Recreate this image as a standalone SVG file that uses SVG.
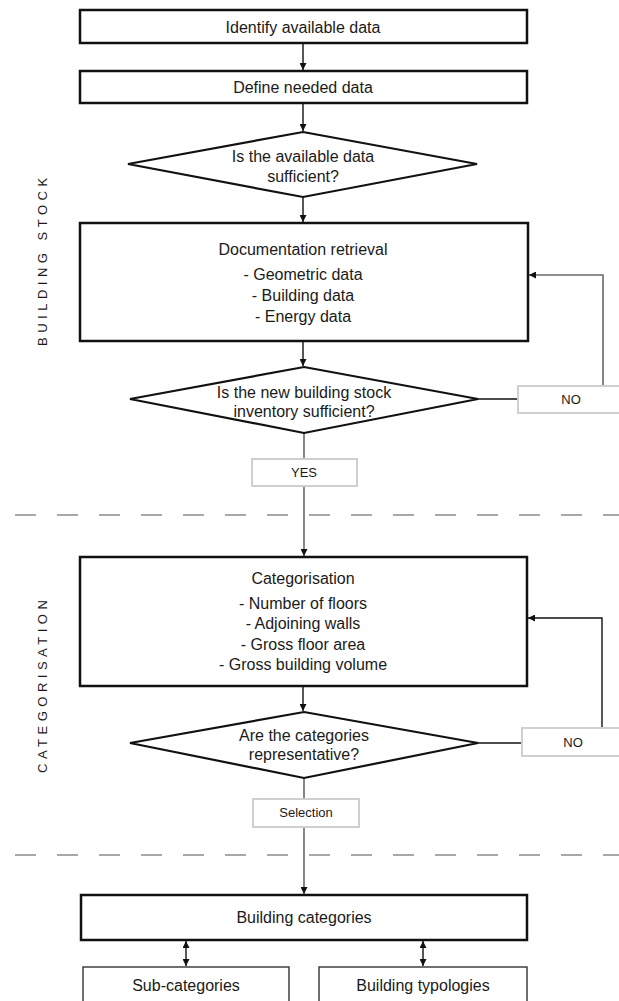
<svg xmlns="http://www.w3.org/2000/svg" width="619" height="1001" viewBox="0 0 619 1001">
<style>
text{font-family:"Liberation Sans",Arial,sans-serif;fill:#1a1a1a;text-anchor:middle}
.t{font-size:16px}
.s{font-size:13px}
.side{font-size:13px;letter-spacing:4.5px;text-anchor:start}
.box{fill:#fff;stroke:#111;stroke-width:2.5}
.thin{fill:#fff;stroke:#333;stroke-width:1.4}
.dia{fill:#fff;stroke:#111;stroke-width:2.2}
.lab{fill:#fff;stroke:#cfcfcf;stroke-width:2}
.c{fill:none;stroke:#111;stroke-width:1.4}
.g{fill:none;stroke:#6a6a6a;stroke-width:1.6}
.dash{stroke:#a8a8a8;stroke-width:2.2;stroke-dasharray:21 21}
</style>
<defs>
<marker id="ah" viewBox="0 0 10 10" refX="10" refY="5" markerWidth="7" markerHeight="7" markerUnits="userSpaceOnUse" orient="auto">
<path d="M0,0 L10,5 L0,10 z" fill="#111"/>
</marker>
<marker id="as" viewBox="0 0 10 10" refX="0" refY="5" markerWidth="7" markerHeight="7" markerUnits="userSpaceOnUse" orient="auto">
<path d="M10,0 L0,5 L10,10 z" fill="#111"/>
</marker>
</defs>

<g id="dividers">
<line class="dash" x1="15" y1="515" x2="619" y2="515"/>
<line class="dash" x1="15" y1="855" x2="619" y2="855"/>
</g>

<g id="section-labels">
<text class="side" transform="translate(47,346) rotate(-90)">BUILDING STOCK</text>
<text class="side" transform="translate(47,773) rotate(-90)">CATEGORISATION</text>
</g>

<g id="connectors">
<line class="c" x1="303" y1="44" x2="303" y2="70" marker-end="url(#ah)"/>
<line class="c" x1="303" y1="104" x2="303" y2="131" marker-end="url(#ah)"/>
<line class="c" x1="303" y1="197" x2="303" y2="222" marker-end="url(#ah)"/>
<line class="c" x1="303" y1="342" x2="303" y2="366" marker-end="url(#ah)"/>
<line class="g" x1="304" y1="433" x2="304" y2="459"/>
<line class="g" x1="304" y1="487" x2="304" y2="556" marker-end="url(#ah)"/>
<line class="c" x1="478" y1="399" x2="518" y2="399"/>
<polyline class="g" points="603,386 603,275 529,275" marker-end="url(#ah)"/>
<line class="c" x1="303" y1="687" x2="303" y2="711" marker-end="url(#ah)"/>
<line class="c" x1="478" y1="743" x2="522" y2="743"/>
<polyline class="c" points="602,728 602,618 528,618" marker-end="url(#ah)"/>
<line class="g" x1="304" y1="778" x2="304" y2="799"/>
<line class="g" x1="304" y1="828" x2="304" y2="894" marker-end="url(#ah)"/>
<line class="c" x1="186" y1="941" x2="186" y2="966" marker-start="url(#as)" marker-end="url(#ah)"/>
<line class="c" x1="423" y1="941" x2="423" y2="966" marker-start="url(#as)" marker-end="url(#ah)"/>
</g>

<g id="identify">
<rect class="box" x="80" y="10" width="447" height="33"/>
<text class="t" x="303" y="33">Identify available data</text>
</g>
<g id="define">
<rect class="box" x="80" y="71" width="447" height="32"/>
<text class="t" x="303" y="93">Define needed data</text>
</g>
<g id="decision1">
<polygon class="dia" points="303,132 477,164 303,197 128,164"/>
<text class="t" x="303" y="162">Is the available data</text>
<text class="t" x="303" y="182">sufficient?</text>
</g>
<g id="documentation">
<rect class="box" x="80" y="223" width="448" height="118"/>
<text class="t" x="303" y="255">Documentation retrieval</text>
<text class="t" x="303" y="280">- Geometric data</text>
<text class="t" x="303" y="301">- Building data</text>
<text class="t" x="303" y="322">- Energy data</text>
</g>
<g id="decision2">
<polygon class="dia" points="304,367 478,399 304,433 130,399"/>
<text class="t" x="304" y="398">Is the new building stock</text>
<text class="t" x="304" y="417">inventory sufficient?</text>
</g>
<g id="no1">
<rect class="lab" x="518" y="386" width="104" height="27"/>
<text class="s" x="571" y="404">NO</text>
</g>
<g id="yes">
<rect class="lab" x="252" y="459" width="105" height="27"/>
<text class="s" x="304" y="477">YES</text>
</g>
<g id="categorisation">
<rect class="box" x="80" y="557" width="447" height="129"/>
<text class="t" x="303" y="584">Categorisation</text>
<text class="t" x="303" y="609">- Number of floors</text>
<text class="t" x="303" y="629">- Adjoining walls</text>
<text class="t" x="303" y="650">- Gross floor area</text>
<text class="t" x="303" y="670">- Gross building volume</text>
</g>
<g id="decision3">
<polygon class="dia" points="304,712 478,743 304,778 130,743"/>
<text class="t" x="304" y="741">Are the categories</text>
<text class="t" x="304" y="760">representative?</text>
</g>
<g id="no2">
<rect class="lab" x="522" y="728" width="100" height="28"/>
<text class="s" x="573" y="747">NO</text>
</g>
<g id="selection">
<rect class="lab" x="253" y="799" width="106" height="28"/>
<text class="s" x="306" y="817">Selection</text>
</g>
<g id="building-categories">
<rect class="box" x="81" y="895" width="446" height="45"/>
<text class="t" x="304" y="923">Building categories</text>
</g>
<g id="sub-categories">
<rect class="thin" x="83" y="967" width="206" height="50"/>
<text class="t" x="186" y="991">Sub-categories</text>
</g>
<g id="building-typologies">
<rect class="thin" x="319" y="967" width="208" height="50"/>
<text class="t" x="423" y="991">Building typologies</text>
</g>
</svg>
